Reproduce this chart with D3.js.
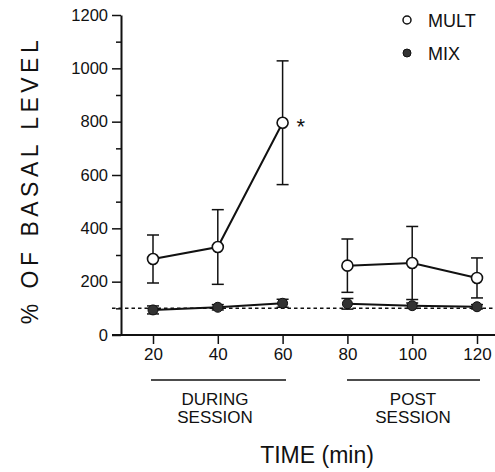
<!DOCTYPE html>
<html><head><meta charset="utf-8">
<script src="https://cdn.jsdelivr.net/npm/d3@7"></script>
<style>body{margin:0;background:#fff}svg{display:block}text{font-family:"Liberation Sans",Arial,sans-serif;fill:#111}</style>
</head><body><svg id="c" width="495" height="472"></svg>
<script>
const times = [20, 40, 60, 80, 100, 120];
const multMean = [285, 330, 796, 260, 270, 214];
const multErr = [90, 140, 232, 100, 137, 75];
const mixMean = [94, 104, 119, 117, 110, 106];
const mixErr = [15, 10, 15, 20, 10, 8];
const yTicks = [0, 200, 400, 600, 800, 1000, 1200];
const yMinor = [100, 300, 500, 700, 900, 1100];
const baseline = 100;

const svg = d3.select("#c");
const x = d3.scaleLinear().domain([20, 120]).range([153, 477]);
const y = d3.scaleLinear().domain([0, 1200]).range([335, 15]);
const ink = "#111";

// y axis
const yAxis = d3.axisLeft(y).tickValues(yTicks).tickFormat(d3.format("d")).tickSize(9).tickPadding(4).tickSizeOuter(0);
const gy = svg.append("g").attr("transform", "translate(121,0)").call(yAxis);
gy.select(".domain").attr("stroke", ink).attr("stroke-width", 2);
gy.selectAll(".tick line").attr("stroke", ink).attr("stroke-width", 1.5);
gy.selectAll(".tick text").attr("font-size", 16.5).attr("fill", ink).style("font-family", '"Liberation Sans",Arial,sans-serif');
const gym = svg.append("g").attr("transform", "translate(121,0)").call(d3.axisLeft(y).tickValues(yMinor).tickSize(5).tickFormat(""));
gym.select(".domain").remove();
gym.selectAll(".tick line").attr("stroke", ink).attr("stroke-width", 1.5);

// x axis
const xAxis = d3.axisBottom(x).tickValues(times).tickFormat(d3.format("d")).tickSize(9).tickPadding(4).tickSizeOuter(0);
const gx = svg.append("g").attr("transform", "translate(0,335)").call(xAxis);
gx.select(".domain").remove();
gx.selectAll(".tick line").attr("stroke", ink).attr("stroke-width", 1.5);
gx.selectAll(".tick text").attr("font-size", 17).attr("fill", ink).style("font-family", '"Liberation Sans",Arial,sans-serif');
svg.append("line").attr("x1", 112).attr("x2", 495).attr("y1", y(0)).attr("y2", y(0))
  .attr("stroke", ink).attr("stroke-width", 2);

// baseline dotted
svg.append("line").attr("x1", 112).attr("x2", 495).attr("y1", y(baseline)).attr("y2", y(baseline))
  .attr("stroke", ink).attr("stroke-width", 1.5).attr("stroke-dasharray", "3.5,3");

// error bars
function errBars(mean, err) {
  const g = svg.append("g").attr("stroke", ink).attr("stroke-width", 1.5);
  times.forEach((t, i) => {
    const cx = x(t);
    g.append("line").attr("x1", cx).attr("x2", cx).attr("y1", y(mean[i] + err[i])).attr("y2", y(mean[i] - err[i]));
    [mean[i] + err[i], mean[i] - err[i]].forEach(v => {
      g.append("line").attr("x1", cx - 6).attr("x2", cx + 6).attr("y1", y(v)).attr("y2", y(v));
    });
  });
}
errBars(multMean, multErr);
errBars(mixMean, mixErr);

const line = d3.line().x((d) => x(d[0])).y((d) => y(d[1]));
function seg(mean, idx) {
  svg.append("path").datum(idx.map(i => [times[i], mean[i]])).attr("d", line)
    .attr("fill", "none").attr("stroke", ink).attr("stroke-width", 2);
}
seg(multMean, [0, 1, 2]); seg(multMean, [3, 4, 5]);
seg(mixMean, [0, 1, 2]); seg(mixMean, [3, 4, 5]);

svg.append("g").selectAll("circle").data(times).join("circle")
  .attr("cx", d => x(d)).attr("cy", (d, i) => y(mixMean[i])).attr("r", 5)
  .attr("fill", "#333").attr("stroke", ink).attr("stroke-width", 1);
svg.append("g").selectAll("circle").data(times).join("circle")
  .attr("cx", d => x(d)).attr("cy", (d, i) => y(multMean[i])).attr("r", 5.5)
  .attr("fill", "#fff").attr("stroke", ink).attr("stroke-width", 1.6);

// significance star
svg.append("text").attr("x", x(60) + 14).attr("y", y(multMean[2]) + 11).attr("font-size", 22).text("*");

// legend
svg.append("circle").attr("cx", 407).attr("cy", 20).attr("r", 4).attr("fill", "#fff").attr("stroke", ink).attr("stroke-width", 1.5);
svg.append("text").attr("x", 428).attr("y", 27).attr("font-size", 18).text("MULT");
svg.append("circle").attr("cx", 407).attr("cy", 53).attr("r", 4).attr("fill", "#333").attr("stroke", ink).attr("stroke-width", 1);
svg.append("text").attr("x", 428).attr("y", 60).attr("font-size", 18).text("MIX");

// session lines & labels
svg.append("line").attr("x1", 151).attr("x2", 286).attr("y1", 380).attr("y2", 380).attr("stroke", ink).attr("stroke-width", 1.5);
svg.append("line").attr("x1", 347).attr("x2", 480).attr("y1", 380).attr("y2", 380).attr("stroke", ink).attr("stroke-width", 1.5);
svg.append("text").attr("x", 215).attr("y", 405).attr("text-anchor", "middle").attr("font-size", 17).text("DURING");
svg.append("text").attr("x", 215).attr("y", 423).attr("text-anchor", "middle").attr("font-size", 17).text("SESSION");
svg.append("text").attr("x", 413).attr("y", 405).attr("text-anchor", "middle").attr("font-size", 17).text("POST");
svg.append("text").attr("x", 413).attr("y", 423).attr("text-anchor", "middle").attr("font-size", 17).text("SESSION");

// axis titles
svg.append("text").attr("x", 317).attr("y", 463).attr("text-anchor", "middle").attr("font-size", 23).text("TIME (min)");
svg.append("text").attr("transform", "translate(38,180) rotate(-90)").attr("text-anchor", "middle")
  .attr("font-size", 23).attr("letter-spacing", 4.5).text("% OF BASAL LEVEL");
</script></body></html>
